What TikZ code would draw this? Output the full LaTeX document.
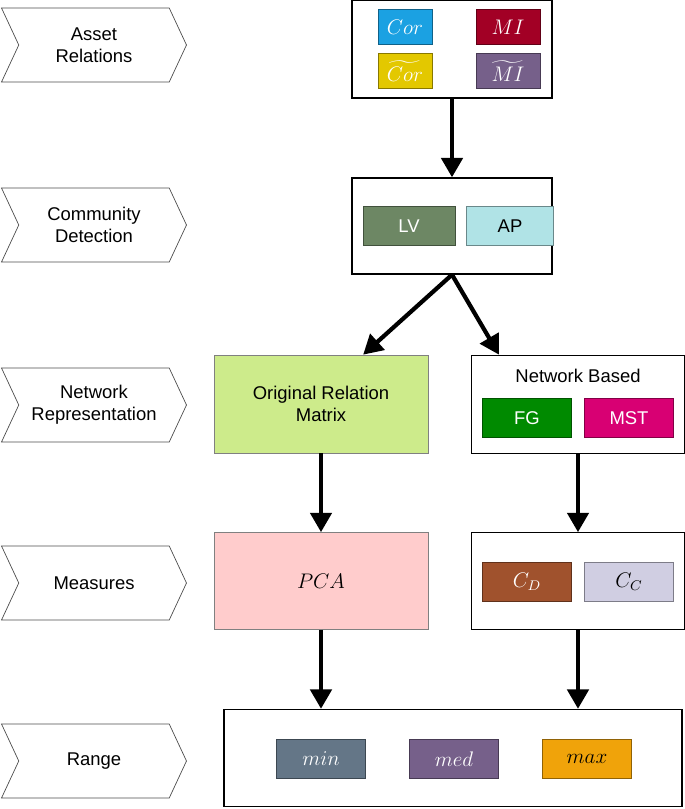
\documentclass[tikz,border=0pt]{standalone}
\usepackage{fontspec}
\setmainfont{Liberation Sans}
\usepackage{amsmath}
\usetikzlibrary{shapes.symbols,arrows.meta}
\definecolor{cBlue}{HTML}{1BA1E2}
\definecolor{cRed}{HTML}{A20025}
\definecolor{cYellow}{HTML}{E3C800}
\definecolor{cPurple}{HTML}{76608A}
\definecolor{cOlive}{HTML}{6D8764}
\definecolor{cCyan}{HTML}{B0E3E6}
\definecolor{cLime}{HTML}{CDEB8B}
\definecolor{cGreen}{HTML}{008A00}
\definecolor{cMagenta}{HTML}{D80073}
\definecolor{cPink}{HTML}{FFCCCC}
\definecolor{cBrown}{HTML}{A0522D}
\definecolor{cLav}{HTML}{D0CEE2}
\definecolor{cSlate}{HTML}{647687}
\definecolor{cOrange}{HTML}{F0A30A}
\tikzset{
  stage/.style={shape=signal, signal to=east, signal from=west, signal pointer angle=130,
    draw=black!70, minimum width=3.7cm, minimum height=1.48cm, align=center, inner sep=1pt},
  frame/.style={draw, thick, fill=white, inner sep=0pt},
  chip/.style={draw=#1!60!black, fill=#1, text=white, inner sep=0pt, minimum width=1.78cm, minimum height=0.78cm},
  flow/.style={line width=2.4pt, -{Triangle[length=11pt,width=12pt]}},
}
\begin{document}
\begin{tikzpicture}[x=0.02cm,y=-0.02cm,font=\fontsize{10.5}{12.5}\selectfont]
\useasboundingbox (0,0) rectangle (685,809);
% Left stages
\node[stage] (s1) at (94,45) {Asset\\Relations};
\node[stage] (s2) at (94,225) {Community\\Detection};
\node[stage] (s3) at (94,405) {Network\\Representation};
\node[stage] (s4) at (94,583) {Measures};
\node[stage] (s5) at (94,761) {Range};

% Asset relations
\node[frame, minimum width=4cm, minimum height=1.96cm] (rel) at (452,49) {};
\node[chip=cBlue, minimum width=1.08cm, minimum height=0.7cm] (cor) at (405,27) {\large$Cor$};
\node[chip=cRed, minimum width=1.28cm, minimum height=0.7cm] (mi) at (508,27) {\large$MI$};
\node[chip=cYellow, minimum width=1.08cm, minimum height=0.7cm] (cort) at (405,71) {\large$\widetilde{Cor}$};
\node[chip=cPurple, minimum width=1.28cm, minimum height=0.7cm] (mit) at (508,71) {\large$\widetilde{MI}$};

% Community detection
\node[frame, minimum width=4cm, minimum height=1.92cm] (com) at (452,226) {};
\node[chip=cOlive, minimum width=1.84cm] (lv) at (409,226) {LV};
\node[chip=cCyan, text=black, minimum width=1.74cm] (ap) at (510,226) {AP};

% Network representation
\node[draw=black!50, fill=cLime, minimum width=4.28cm, minimum height=1.96cm, align=center] (orm) at (321,404) {Original Relation\\Matrix};
\node[draw, fill=white, minimum width=4.26cm, minimum height=1.96cm] (nb) at (578,404) {};
\node[anchor=north] (nbt) at (578,363) {Network Based};
\node[chip=cGreen] (fg) at (527,418) {FG};
\node[chip=cMagenta] (mst) at (629,418) {MST};

% Measures
\node[draw=black!50, fill=cPink, minimum width=4.28cm, minimum height=1.94cm] (pca) at (321,581) {\large$PCA$};
\node[draw, fill=white, minimum width=4.26cm, minimum height=1.94cm] (cen) at (578,581) {};
\node[chip=cBrown] (cd) at (527,582) {\large$C_D$};
\node[chip=cLav, text=black] (cc) at (629,582) {\large$C_C$};

% Range
\node[frame, minimum width=9.16cm, minimum height=1.94cm] (rng) at (453,758) {};
\node[chip=cSlate] (mn) at (321,759) {\large$min$};
\node[chip=cPurple] (md) at (454,759) {\large$med$};
\node[chip=cOrange, text=black] (mx) at (587,759) {\large$max$};

% Arrows
\draw[flow] (rel.south) -- (com.north);
\draw[flow] (com.south) -- ([xshift=24]orm.north);
\draw[flow] (com.south) -- ([xshift=-45]nb.north);
\draw[flow] (orm.south) -- (pca.north);
\draw[flow] (nb.south) -- (cen.north);
\draw[flow] (pca.south) -- (pca.south |- rng.north);
\draw[flow] (cen.south) -- (cen.south |- rng.north);
\end{tikzpicture}
\end{document}
